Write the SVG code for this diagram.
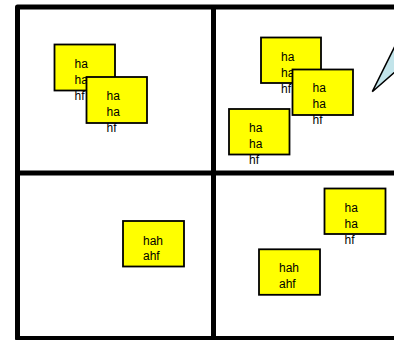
<svg xmlns="http://www.w3.org/2000/svg" width="394" height="340" viewBox="0 0 394 340">
<style>
.box{fill:#ffff00;stroke:#000;stroke-width:1.8}
.t{font-family:"Liberation Sans",Arial,sans-serif;font-size:12px;fill:#000}
.grid{fill:none;stroke:#000;stroke-width:5;stroke-linejoin:round}
</style>
<rect width="394" height="340" fill="#fff"/>
<g id="grid">
<path class="grid" d="M394 7 H17.5 V338.5 H394"/>
<path class="grid" d="M213.5 7 V340"/>
<path class="grid" d="M17.5 173 H394"/>
</g>
<g id="callout">
<polygon points="372.3,91.7 396,44 396,71" fill="#c2e4ea" stroke="#000" stroke-width="1.5" stroke-linejoin="miter"/>
</g>
<g id="connectors"/>
<g id="nodeA">
<rect class="box" x="54.5" y="44.5" width="60.5" height="46"/>
<text class="t" x="74.5" y="67.8">ha</text>
<text class="t" x="74.5" y="83.8">ha</text>
<text class="t" x="74.5" y="99.8">hf</text>
</g>
<g id="nodeB">
<rect class="box" x="86.5" y="77" width="60.5" height="46"/>
<text class="t" x="106.5" y="100.3">ha</text>
<text class="t" x="106.5" y="116.3">ha</text>
<text class="t" x="106.5" y="132.3">hf</text>
</g>
<g id="nodeC">
<rect class="box" x="261" y="37.5" width="60" height="45.5"/>
<text class="t" x="281" y="60.5">ha</text>
<text class="t" x="281" y="76.5">ha</text>
<text class="t" x="281" y="92.5">hf</text>
</g>
<g id="nodeD">
<rect class="box" x="292.5" y="69.5" width="60.5" height="45.5"/>
<text class="t" x="312.5" y="92.3">ha</text>
<text class="t" x="312.5" y="108.3">ha</text>
<text class="t" x="312.5" y="124.3">hf</text>
</g>
<g id="nodeE">
<rect class="box" x="229" y="109" width="60.5" height="45.5"/>
<text class="t" x="249" y="132.3">ha</text>
<text class="t" x="249" y="148.3">ha</text>
<text class="t" x="249" y="164.3">hf</text>
</g>
<g id="nodeF">
<rect class="box" x="123" y="221" width="61" height="45.5"/>
<text class="t" x="143" y="244.5">hah</text>
<text class="t" x="143" y="260.3">ahf</text>
</g>
<g id="nodeG">
<rect class="box" x="324.5" y="188.5" width="61" height="45.5"/>
<text class="t" x="344.5" y="212.2">ha</text>
<text class="t" x="344.5" y="228">ha</text>
<text class="t" x="344.5" y="243.8">hf</text>
</g>
<g id="nodeH">
<rect class="box" x="259" y="249.3" width="61" height="45.5"/>
<text class="t" x="279" y="272.2">hah</text>
<text class="t" x="279" y="288">ahf</text>
</g>
</svg>
